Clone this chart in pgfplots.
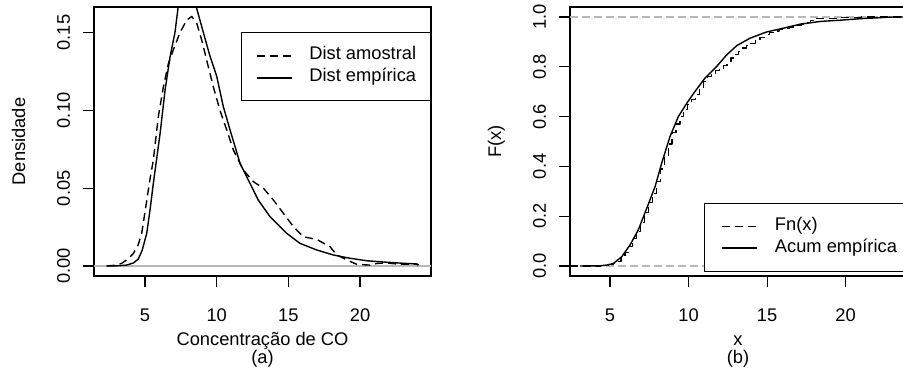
\documentclass[border=0pt]{standalone}
\usepackage{fontspec}
\setmainfont{Liberation Sans}
\usepackage{pgfplots}
\pgfplotsset{compat=1.18}
\newcommand{\fs}{\fontsize{18.3}{22}\selectfont}
\begin{document}
\begin{tikzpicture}[x=1pt,y=1pt]
\useasboundingbox (0,0) rectangle (903,373);
\clip (0,0) rectangle (903,373);
\pgfplotsset{
 rstyle/.style={
  scale only axis, height=269pt, clip mode=individual,
  axis line style={line width=1.2pt},
  tick align=outside, tick pos=left, major tick length=11pt,
  every tick/.style={black, line width=1.2pt},
  xticklabel style={font=\fs, anchor=base, yshift=-34pt},
  yticklabel style={font=\fs, rotate=90, anchor=south, inner sep=0pt, text depth=13pt},
  every axis y label/.style={at={(axis description cs:-0.2047,0.5)}, rotate=90, anchor=base, font=\fs},
  every axis x label/.style={at={(axis description cs:0.5,-0.2565)}, anchor=base, font=\fs},
  legend cell align=left,
  legend image code/.code={\draw[#1] (0pt,0pt) -- (35pt,0pt);},
  rleg/.style={draw=black, line width=1.1pt, fill=white, font=\fs, inner ysep=12pt, row sep=0pt, column sep=17pt, nodes={inner xsep=0pt, inner ysep=3pt, text height=12pt, text depth=4pt}},
 },
 dashedc/.style={black, line width=1.4pt, dash pattern=on 8pt off 5pt, line join=round},
 solidc/.style={black, line width=1.4pt, line join=round},
}
% ---------------- (a) ----------------
\begin{axis}[rstyle, width=337pt, at={(94pt,97pt)}, anchor=south west,
  xmin=1.442, xmax=24.95, ymin=-0.0064, ymax=0.1664,
  xtick={5,10,15,20}, xticklabels={5,10,15,20},
  ytick={0,0.05,0.1,0.15}, yticklabels={0.00,0.05,0.10,0.15},
  xlabel={Concentração de CO}, ylabel={Densidade},
  legend style={rleg, inner xsep=14.3pt, at={(1,0.906)}, anchor=north east}]
\addplot[black!28, line width=1.2pt, forget plot] coordinates {(1.442,0) (24.95,0)};
\addplot[dashedc] coordinates {
(2.33,0) (3.0,0.0006) (3.37,0.0017) (3.8,0.0045) (4.18,0.008) (4.5,0.013) (4.77,0.021)
(5.12,0.042) (5.35,0.056) (5.58,0.068) (5.93,0.096) (6.28,0.115) (6.63,0.130)
(6.98,0.139) (7.44,0.150) (7.91,0.158) (8.26,0.1603) (8.61,0.156) (8.96,0.145)
(9.31,0.132) (9.77,0.115) (10.23,0.100) (10.7,0.0875) (11.16,0.0746) (11.86,0.0617)
(12.56,0.0542) (13.26,0.050) (13.96,0.0424) (14.65,0.0339) (15.35,0.0253)
(16.05,0.0188) (16.98,0.0171) (17.91,0.0124) (18.38,0.0071) (19.08,0.0039)
(19.77,0.0011) (20.7,0.0006) (21.17,0.0017) (21.87,0.002) (22.8,0.0011)
(23.96,0.0013) (24.07,0.0006)};
\addlegendentry{Dist amostral}
\addplot[solidc] coordinates {
(2.33,0) (3.0,0.0001) (3.72,0.0006) (4.2,0.002) (4.53,0.0045) (4.8,0.010)
(5.12,0.021) (5.35,0.036) (5.58,0.053) (5.8,0.068) (6.05,0.085) (6.4,0.113)
(6.74,0.134) (7.09,0.150) (7.32,0.167) (7.55,0.175) (7.9,0.179) (8.25,0.175)
(8.56,0.167) (9.07,0.150) (9.54,0.1346) (10.0,0.122) (10.46,0.1025) (10.93,0.0875)
(11.63,0.066) (12.33,0.053) (12.9,0.0424) (13.72,0.0317) (14.89,0.021)
(15.8,0.0146) (16.98,0.0103) (18.14,0.0071) (19.3,0.005) (20.47,0.0034)
(21.63,0.0026) (22.8,0.0019) (23.96,0.0013) (24.07,0.0006)};
\addlegendentry{Dist empírica}
\node[font=\fs, anchor=base] at (axis description cs:0.5,-0.326) {(a)};
\end{axis}
% ---------------- (b) ----------------
\begin{axis}[rstyle, width=336pt, at={(570pt,97pt)}, anchor=south west,
  xmin=2.454, xmax=23.84, ymin=-0.04, ymax=1.04,
  xtick={5,10,15,20}, xticklabels={5,10,15,20},
  ytick={0,0.2,0.4,0.6,0.8,1.0}, yticklabels={0.0,0.2,0.4,0.6,0.8,1.0},
  xlabel={x}, ylabel={F(x)},
  legend style={rleg, inner xsep=16.7pt, at={(0.3997,0.016)}, anchor=south west}]
\addplot[black!28, line width=1.2pt, dash pattern=on 7.5pt off 4.5pt, forget plot] coordinates {(2.454,0) (23.84,0)};
\addplot[black!28, line width=1.2pt, dash pattern=on 7.5pt off 4.5pt, forget plot] coordinates {(2.454,1) (23.84,1)};
\addplot[dashedc, line width=1.2pt, const plot] coordinates {
(2.454,0) (4.4,0.002) (4.9,0.005) (5.2,0.01) (5.45,0.018) (5.7,0.035) (5.95,0.055)
(6.2,0.078) (6.45,0.11) (6.7,0.14) (6.95,0.175) (7.2,0.215) (7.45,0.255) (7.7,0.29)
(7.95,0.34) (8.2,0.39) (8.45,0.44) (8.7,0.49) (8.95,0.535) (9.2,0.57) (9.45,0.6)
(9.7,0.63) (9.95,0.65) (10.2,0.67) (10.45,0.69) (10.7,0.715) (10.95,0.74) (11.2,0.76)
(11.45,0.775) (11.7,0.785) (11.95,0.795) (12.2,0.805) (12.45,0.82) (12.7,0.835)
(12.95,0.85) (13.2,0.862) (13.45,0.875) (13.7,0.885) (13.95,0.895) (14.25,0.905)
(14.55,0.918) (14.85,0.928) (15.15,0.937) (15.45,0.944) (15.75,0.95) (16.05,0.955)
(16.4,0.96) (16.8,0.966) (17.2,0.972) (17.5,0.978) (17.75,0.985) (17.95,0.995)
(19.5,0.998) (21,1.0) (23.84,1.0)};
\addlegendentry{Fn(x)}
\addplot[solidc] coordinates {
(3.09,0) (4.36,0.001) (4.8,0.004) (5.21,0.01) (5.74,0.037) (6.27,0.084) (6.8,0.145)
(7.34,0.232) (7.87,0.319) (8.29,0.413) (8.82,0.52) (9.35,0.6) (9.89,0.654)
(10.41,0.701) (11.05,0.755) (11.8,0.802) (12.43,0.848) (13.07,0.885) (13.92,0.915)
(14.98,0.94) (16.04,0.955) (17.1,0.971) (18.38,0.982) (19.65,0.987) (20.92,0.993)
(23.05,1.0) (23.84,1.0)};
\addlegendentry{Acum empírica}
\node[font=\fs, anchor=base] at (axis description cs:0.5,-0.326) {(b)};
\end{axis}
\end{tikzpicture}
\end{document}
